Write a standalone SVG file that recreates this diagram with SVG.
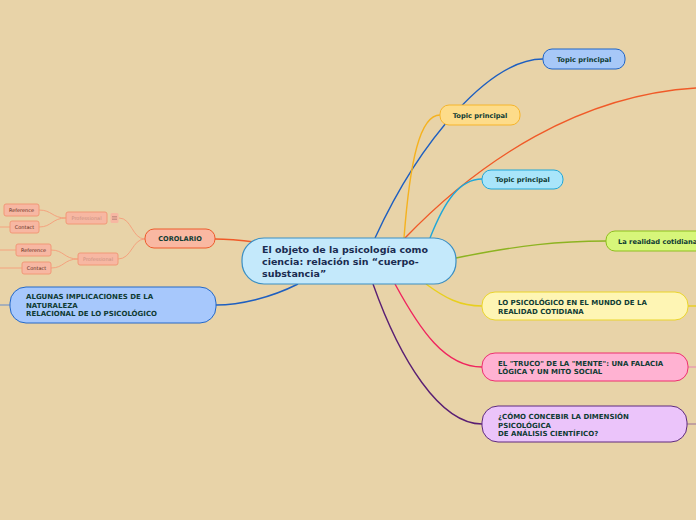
<svg xmlns="http://www.w3.org/2000/svg" width="696" height="520" viewBox="0 0 696 520">
<style>
.t{font-family:"DejaVu Sans",Verdana,sans-serif;font-weight:bold;fill:#0f3b33}
.c{fill:none;stroke-width:1.4}
.s{fill:none;stroke:#f5a27e;stroke-width:1}
.sub{fill:#f7b7a2;stroke:#f29877;stroke-width:1}
.st{font-family:"DejaVu Sans",Verdana,sans-serif;font-size:5px;fill:#5a2a20}
.pt{font-family:"DejaVu Sans",Verdana,sans-serif;font-size:5px;fill:#c98f80}
</style>
<rect width="696" height="520" fill="#e8d3a8"/>
<g id="connectors">
<path class="c" stroke="#1e5fc0" d="M375,238 C420,140 490,59 543,59"/>
<path class="c" stroke="#f5b21f" d="M404,238 C410,160 420,115 440,115"/>
<path class="c" stroke="#f05a28" d="M405,238 C480,160 580,95 696,88"/>
<path class="c" stroke="#1fa7d9" d="M430,238 C445,200 460,179 482,179"/>
<path class="c" stroke="#8db321" d="M456,258 C520,245 560,241 606,241"/>
<path class="c" stroke="#e8cf1e" d="M426,284 C445,298 460,306 482,306"/>
<path class="c" stroke="#f0245e" d="M395,284 C420,330 445,367 482,367"/>
<path class="c" stroke="#5a1f73" d="M373,284 C400,360 440,424 482,424"/>
<path class="c" stroke="#1e5fc0" d="M298,284 C270,298 240,305 216,305"/>
<path class="c" stroke="#f05a28" d="M262,243 C240,240 225,239 215,239"/>
<path class="c" stroke="#e8cf1e" d="M688,306 L696,306"/>
<path class="c" stroke="#e89ab0" d="M688,367 L696,367"/>
<path class="c" stroke="#b08b9b" d="M687,424 L696,424"/>
<path class="c" stroke="#8aa0c0" d="M0,305 L10,305"/>
<path class="s" d="M145,239 C132,239 132,218 119,218"/>
<path class="s" d="M145,239 C132,239 132,259 118,259"/>
<path class="s" d="M66,218 C52,218 52,210 39,210"/>
<path class="s" d="M66,218 C52,218 52,227 39,227"/>
<path class="s" d="M78,259 C64,259 64,250 51,250"/>
<path class="s" d="M78,259 C64,259 64,268 51,268"/>
<path class="s" d="M10,227 L0,227"/>
<path class="s" d="M16,250 L0,250"/>
<path class="s" d="M22,268 L0,268"/>
</g>
<g id="central">
<rect x="242" y="238" width="214" height="46" rx="22" fill="#c4e9fb" stroke="#3a8fc4" stroke-width="1.2"/>
<text class="t" style="fill:#1a2b50" font-size="9.5"><tspan x="262" y="253">El objeto de la psicología como</tspan><tspan x="262" y="265">ciencia: relación sin “cuerpo-</tspan><tspan x="262" y="277">substancia”</tspan></text>
</g>
<g id="topic-blue">
<rect x="543" y="49" width="82" height="20" rx="9" fill="#a7c8f8" stroke="#1e64c8"/>
<text class="t" font-size="6.7" x="584" y="61.5" text-anchor="middle">Topic principal</text>
</g>
<g id="topic-yellow">
<rect x="440" y="105" width="80" height="20" rx="9" fill="#fddc8a" stroke="#f7b52a"/>
<text class="t" font-size="6.7" x="480" y="117.5" text-anchor="middle">Topic principal</text>
</g>
<g id="topic-cyan">
<rect x="482" y="170" width="81" height="19" rx="9" fill="#a9e5fa" stroke="#1fa7d9"/>
<text class="t" font-size="6.7" x="522.5" y="182" text-anchor="middle">Topic principal</text>
</g>
<g id="realidad">
<rect x="606" y="231" width="100" height="20" rx="9" fill="#d7f67a" stroke="#8dbf1e"/>
<text class="t" font-size="6.7" x="618" y="243.5">La realidad cotidiana</text>
</g>
<g id="lo-psicologico">
<rect x="482" y="292" width="206" height="28" rx="13" fill="#fef5b4" stroke="#ead42b"/>
<text class="t" font-size="7"><tspan x="498" y="305">LO PSICOLÓGICO EN EL MUNDO DE LA</tspan><tspan x="498" y="313.5">REALIDAD COTIDIANA</tspan></text>
</g>
<g id="truco">
<rect x="482" y="353" width="206" height="28" rx="13" fill="#ffb2d2" stroke="#ee2f6f"/>
<text class="t" font-size="7"><tspan x="498" y="365.5">EL "TRUCO" DE LA "MENTE": UNA FALACIA</tspan><tspan x="498" y="374">LÓGICA Y UN MITO SOCIAL</tspan></text>
</g>
<g id="como">
<rect x="482" y="406" width="205" height="36" rx="16" fill="#ebc4fa" stroke="#5e2a7e"/>
<text class="t" font-size="7"><tspan x="498" y="419">¿CÓMO CONCEBIR LA DIMENSIÓN</tspan><tspan x="498" y="427.5">PSICOLÓGICA</tspan><tspan x="498" y="436">DE ANÁLISIS CIENTÍFICO?</tspan></text>
</g>
<g id="algunas">
<rect x="10" y="287" width="206" height="36" rx="16" fill="#a7c8fc" stroke="#2468c8"/>
<text class="t" font-size="7"><tspan x="26" y="299">ALGUNAS IMPLICACIONES DE LA</tspan><tspan x="26" y="307.5">NATURALEZA</tspan><tspan x="26" y="316">RELACIONAL DE LO PSICOLÓGICO</tspan></text>
</g>
<g id="corolario">
<rect x="145" y="229" width="70" height="19" rx="9" fill="#f9b8a2" stroke="#ee5a2c"/>
<text class="t" font-size="6.6" x="180" y="241" text-anchor="middle">COROLARIO</text>
</g>
<g id="professional-1">
<rect x="66" y="212" width="41" height="12" rx="2" class="sub"/>
<text class="pt" x="86.5" y="220" text-anchor="middle">Professional</text>
<rect x="110.5" y="213" width="8" height="10" rx="1.5" fill="#f7b7a2"/>
<path d="M112,216.5 h5 M112,218 h5 M112,219.5 h5" stroke="#b88478" stroke-width="0.7"/>
</g>
<g id="professional-2">
<rect x="78" y="253" width="40" height="12" rx="2" class="sub"/>
<text class="pt" x="98" y="261" text-anchor="middle">Professional</text>
</g>
<g id="reference-1">
<rect x="4" y="204" width="35" height="12" rx="2" class="sub"/>
<text class="st" x="21.5" y="212" text-anchor="middle">Reference</text>
</g>
<g id="contact-1">
<rect x="10" y="221" width="29" height="12" rx="2" class="sub"/>
<text class="st" x="24.5" y="229" text-anchor="middle">Contact</text>
</g>
<g id="reference-2">
<rect x="16" y="244" width="35" height="12" rx="2" class="sub"/>
<text class="st" x="33.5" y="252" text-anchor="middle">Reference</text>
</g>
<g id="contact-2">
<rect x="22" y="262" width="29" height="12" rx="2" class="sub"/>
<text class="st" x="36.5" y="270" text-anchor="middle">Contact</text>
</g>
</svg>
